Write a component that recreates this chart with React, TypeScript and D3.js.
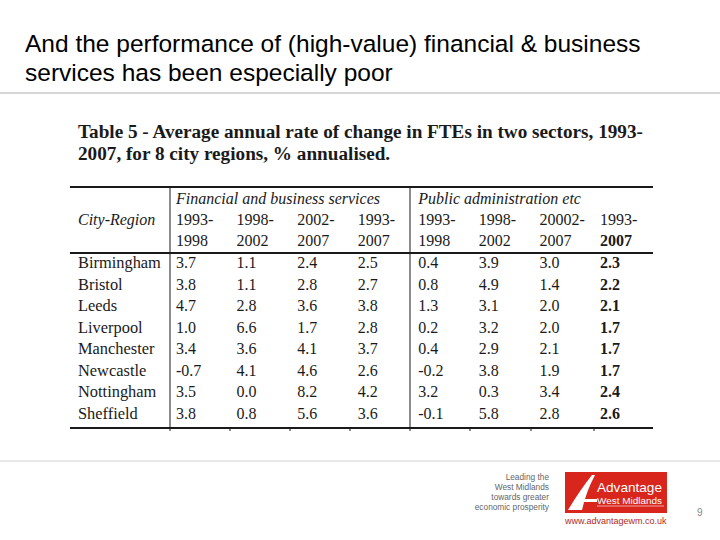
import React from "react";
import * as d3 from "d3";

const cities = ["Birmingham", "Bristol", "Leeds", "Liverpool", "Manchester", "Newcastle", "Nottingham", "Sheffield"];
const periodStarts = ["1993-", "1998-", "2002-", "1993-", "1993-", "1998-", "20002-", "1993-"];
const periodEnds = ["1998", "2002", "2007", "2007", "1998", "2002", "2007", "2007"];
const sectors = ["Financial and business services", "Public administration etc"];
const fbs1993_1998 = ["3.7", "3.8", "4.7", "1.0", "3.4", "-0.7", "3.5", "3.8"];
const fbs1998_2002 = ["1.1", "1.1", "2.8", "6.6", "3.6", "4.1", "0.0", "0.8"];
const fbs2002_2007 = ["2.4", "2.8", "3.6", "1.7", "4.1", "4.6", "8.2", "5.6"];
const fbs1993_2007 = ["2.5", "2.7", "3.8", "2.8", "3.7", "2.6", "4.2", "3.6"];
const pa1993_1998 = ["0.4", "0.8", "1.3", "0.2", "0.4", "-0.2", "3.2", "-0.1"];
const pa1998_2002 = ["3.9", "4.9", "3.1", "3.2", "2.9", "3.8", "0.3", "5.8"];
const pa2002_2007 = ["3.0", "1.4", "2.0", "2.0", "2.1", "1.9", "3.4", "2.8"];
const pa1993_2007 = ["2.3", "2.2", "2.1", "1.7", "1.7", "1.7", "2.4", "2.6"];
const columns = [fbs1993_1998, fbs1998_2002, fbs2002_2007, fbs1993_2007, pa1993_1998, pa1998_2002, pa2002_2007, pa1993_2007];
const slideTitle = ["And the performance of (high-value) financial & business", "services has been especially poor"];
const tableTitle = ["Table 5 - Average annual rate of change in FTEs in two sectors, 1993-", "2007, for 8 city regions, % annualised."];
const taglines = ["Leading the", "West Midlands", "towards greater", "economic prosperity"];

export default function App() {
  const colIdx = d3.range(columns.length);
  const x = d3.scalePoint<number>().domain(colIdx).range([176, 600]);
  const y = d3.scalePoint<string>().domain(cities).range([268, 419]);
  const serif = "'Liberation Serif', 'Times New Roman', serif";
  const sans = "'Liberation Sans', Arial, sans-serif";
  const ink = "#1a1a1a";
  const left = 70, right = 653, top = 187, headBottom = 253, bottom = 428;
  const dividers = [170, 410];
  const ticks = [230, 290, 350, 470, 531, 594];
  return (
    <svg width={720} height={540} style={{ position: "absolute", left: 0, top: 0, background: "#fff" }}>
      <rect width={720} height={540} fill="#fff" />
      {slideTitle.map((t, i) => (
        <text key={i} x={25} y={52 + i * 29} fontFamily={sans} fontSize={24.5} fill="#000">{t}</text>
      ))}
      <line x1={0} x2={720} y1={93} y2={93} stroke="#c8c8c8" strokeWidth={1.5} />
      {tableTitle.map((t, i) => (
        <text key={i} x={78} y={138 + i * 22} fontFamily={serif} fontSize={19.2} fontWeight="bold" fill={ink}>{t}</text>
      ))}
      <line x1={left} x2={right} y1={top} y2={top} stroke={ink} strokeWidth={2} />
      <line x1={left} x2={right} y1={headBottom} y2={headBottom} stroke={ink} strokeWidth={2} />
      <line x1={left} x2={right} y1={bottom} y2={bottom} stroke={ink} strokeWidth={2} />
      {dividers.map((d) => (
        <line key={d} x1={d} x2={d} y1={top} y2={bottom + 3} stroke={ink} strokeWidth={1} />
      ))}
      {ticks.map((d) => (
        <line key={d} x1={d} x2={d} y1={bottom} y2={bottom + 3} stroke={ink} strokeWidth={1} />
      ))}
      <text x={78} y={225} fontFamily={serif} fontStyle="italic" fontSize={16} fill={ink}>City-Region</text>
      {sectors.map((s, i) => (
        <text key={s} x={x(i * 4)} y={204} fontFamily={serif} fontStyle="italic" fontSize={16} fill={ink}>{s}</text>
      ))}
      {colIdx.map((c) => (
        <g key={c}>
          <text x={x(c)} y={225} fontFamily={serif} fontSize={16} fill={ink}>{periodStarts[c]}</text>
          <text x={x(c)} y={246} fontFamily={serif} fontSize={16} fill={ink} fontWeight={c === 7 ? "bold" : "normal"}>{periodEnds[c]}</text>
        </g>
      ))}
      {cities.map((city, r) => (
        <g key={city}>
          <text x={78} y={y(city)} fontFamily={serif} fontSize={16.4} fill={ink}>{city}</text>
          {columns.map((col, c) => (
            <text key={c} x={x(c)} y={y(city)} fontFamily={serif} fontSize={16} fill={ink} fontWeight={c === 7 ? "bold" : "normal"}>{col[r]}</text>
          ))}
        </g>
      ))}
      <line x1={0} x2={720} y1={461} y2={461} stroke="#d0d0d0" strokeWidth={1} />
      {taglines.map((t, i) => (
        <text key={t} x={549} y={480 + i * 10} textAnchor="end" fontFamily={sans} fontSize={8.3} fill="#666">{t}</text>
      ))}
      <rect x={565} y={472} width={102} height={41} fill="#d9261c" />
      <path d="M568,510 Q580,490 592,475 L595,475 Q586,492 582,510 Z M577,499 L597,499 L597,502 L577,502 Z" fill="#fff" />
      <text x={597} y={492} fontFamily={sans} fontSize={13} textLength={65} lengthAdjust="spacingAndGlyphs" fill="#fff">Advantage</text>
      <text x={597} y={503.5} fontFamily={sans} fontSize={8.5} textLength={65} lengthAdjust="spacingAndGlyphs" fill="#fff">West Midlands</text>
      <line x1={597} x2={664} y1={506} y2={506} stroke="#fff" strokeWidth={0.6} />
      <text x={565} y={524} fontFamily={sans} fontSize={9} fill="#b02a25">www.advantagewm.co.uk</text>
      <text x={697} y={516} fontFamily={sans} fontSize={10} fill="#888">9</text>
    </svg>
  );
}
